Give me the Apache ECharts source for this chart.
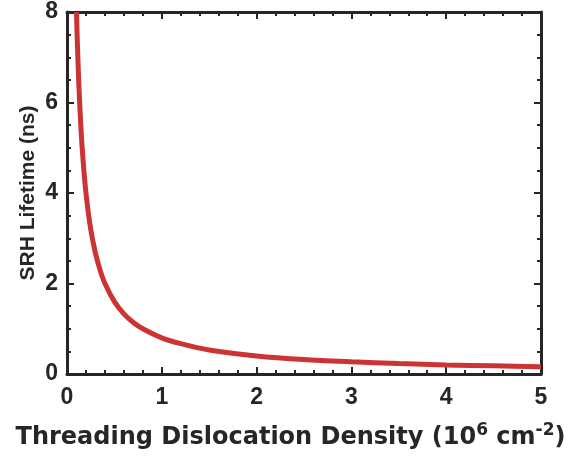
<!DOCTYPE html>
<html><head><meta charset="utf-8">
<script src="https://cdn.jsdelivr.net/npm/echarts@6/dist/echarts.min.js"></script>
<style>html,body{margin:0;padding:0;background:#fff}#c{width:577px;height:457px}</style>
</head><body><div id="c"></div>
<script>
const tdd = [0.1, 0.11, 0.12, 0.13, 0.15, 0.17, 0.2, 0.25, 0.3, 0.35, 0.4, 0.5, 0.6, 0.7, 0.8, 1.0, 1.2, 1.5, 2.0, 2.5, 3.0, 3.5, 4.0, 4.5, 5.0];
const lifetime = [8.0, 7.27, 6.67, 6.15, 5.33, 4.71, 4.0, 3.2, 2.67, 2.29, 2.0, 1.6, 1.33, 1.14, 1.0, 0.8, 0.67, 0.53, 0.4, 0.32, 0.27, 0.23, 0.2, 0.18, 0.16];
const xTicks = [0, 1, 2, 3, 4, 5];
const yTicks = [0, 2, 4, 6, 8];

const chart = echarts.init(document.getElementById('c'));
const axCol = '#262626';
const font = 'Liberation Sans, Arial, Helvetica, sans-serif';
const wide = 'DejaVu Sans, Liberation Sans, sans-serif';
function baseAxis(extra) {
  return Object.assign({
    type: 'value',
    axisLine: { show: true, onZero: false, lineStyle: { color: axCol, width: 3 } },
    axisTick: { show: true, inside: true, length: 7, lineStyle: { color: axCol, width: 2 } },
    splitLine: { show: false },
    nameMoveOverlap: false,
    axisLabel: { show: true, color: axCol, fontFamily: font, fontWeight: 'bold', fontSize: 23 }
  }, extra);
}
chart.setOption({
  animation: false,
  backgroundColor: '#fff',
  grid: { left: 67, right: 36, top: 12, bottom: 83, containLabel: false },
  xAxis: [
    baseAxis({ position: 'bottom', min: xTicks[0], max: xTicks[xTicks.length - 1], interval: 1,
      minorTick: { show: true, splitNumber: 5, length: 4, lineStyle: { color: axCol, width: 2 } },
      axisLabel: { color: axCol, fontFamily: font, fontWeight: 'bold', fontSize: 23, margin: 12 },
      name: '{t|Threading Dislocation Density (10}{s|6}{t| cm}{s|-2}{t|)}',
      nameLocation: 'middle', nameGap: 48,
      nameTextStyle: { padding: [0, 27, 0, 0], rich: {
        t: { fontFamily: wide, fontWeight: 'bold', fontSize: 24, color: axCol, verticalAlign: 'bottom', lineHeight: 28 },
        s: { fontFamily: wide, fontWeight: 'bold', fontSize: 17, color: axCol, verticalAlign: 'top', lineHeight: 10 }
      } } }),
    baseAxis({ position: 'top', min: xTicks[0], max: xTicks[xTicks.length - 1], interval: 1,
      minorTick: { show: true, splitNumber: 5, length: 4, lineStyle: { color: axCol, width: 2 } },
      axisLabel: { show: false } })
  ],
  yAxis: [
    baseAxis({ position: 'left', min: yTicks[0], max: yTicks[yTicks.length - 1], interval: 2,
      minorTick: { show: true, splitNumber: 4, length: 4, lineStyle: { color: axCol, width: 2 } },
      axisLabel: { color: axCol, fontFamily: font, fontWeight: 'bold', fontSize: 23, margin: 9 },
      name: 'SRH Lifetime (ns)', nameLocation: 'middle', nameGap: 28, nameRotate: 90,
      nameTextStyle: { fontFamily: font, fontWeight: 'bold', fontSize: 21, color: axCol } }),
    baseAxis({ position: 'right', min: yTicks[0], max: yTicks[yTicks.length - 1], interval: 2,
      minorTick: { show: true, splitNumber: 4, length: 4, lineStyle: { color: axCol, width: 2 } },
      axisLabel: { show: false } })
  ],
  series: [{
    type: 'line', xAxisIndex: 0, yAxisIndex: 0, smooth: 0.3, symbol: 'none',
    data: tdd.map((x, i) => [x, lifetime[i]]),
    lineStyle: { color: '#cc3333', width: 5 }
  }]
});
</script></body></html>
